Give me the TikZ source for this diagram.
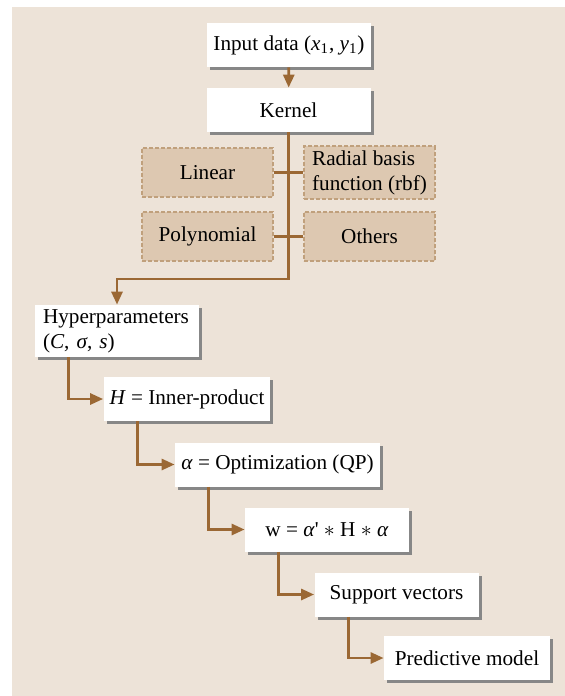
\documentclass[tikz,border=0pt]{standalone}
\usepackage{fontspec}
\setmainfont{Liberation Serif}
\usetikzlibrary{arrows.meta, shadows}

\definecolor{panel}{RGB}{237,227,216}
\definecolor{flowbrown}{RGB}{155,104,52}
\definecolor{optfill}{RGB}{221,200,177}
\definecolor{optdash}{RGB}{192,160,124}
\definecolor{boxshadow}{RGB}{135,135,135}

\begin{document}
\begin{tikzpicture}[
    x=0.5pt, y=-0.5pt,
    font=\fontsize{10.6}{12.6}\selectfont,
    stage/.style={
        rectangle, fill=white, draw=none,
        minimum width=82pt, minimum height=22pt, align=center,
        inner sep=3pt,
        general shadow={fill=boxshadow, shadow xshift=1.5pt, shadow yshift=-1.5pt}
    },
    kernelopt/.style={
        rectangle, fill=optfill, draw=optdash, line width=0.8pt,
        dash pattern=on 2pt off 1pt,
        minimum width=65.5pt, minimum height=24.5pt, align=left,
        inner sep=2pt
    },
    flow/.style={draw=flowbrown, line width=1.4pt, -{Triangle[length=6.5pt, width=5.5pt]}},
    link/.style={draw=flowbrown, line width=1.4pt}
]

\useasboundingbox (0,0) rectangle (565,696);
\fill[panel] (12,7) rectangle (565,696);

% ---------------------------------------------------------------------
% 1. TOP: INPUT AND KERNEL
% ---------------------------------------------------------------------
\node[stage] (input) at (289, 45) {Input data (\textit{x}\textsubscript{1}, \textit{y}\textsubscript{1})};
\node[stage] (kernel) at (288.5, 110) {Kernel};

\draw[flow] (input) -- (kernel);

% Kernel choices
\node[kernelopt] (linear) at (207.5, 172.5) {Linear};
\node[kernelopt] (rbf) at (369.5, 172.5) {Radial basis\\function (rbf)};
\node[kernelopt] (poly) at (207.5, 236.5) {Polynomial};
\node[kernelopt] (others) at (369.5, 236.5) {Others};

% ---------------------------------------------------------------------
% 2. TRAINING STEPS
% ---------------------------------------------------------------------
\node[stage, align=left, text width=74pt, minimum height=26pt, inner ysep=1pt] (hyper) at (117, 331)
    {Hyperparameters\\(\textit{C}, \textit{σ}, \textit{s})};
\node[stage] (inner) at (187, 399) {\textit{H} = Inner-product};
\node[stage, minimum width=102.5pt] (optim) at (277.5, 464.5) {\textit{α} = Optimization (QP)};
\node[stage] (weights) at (327, 529.5) {w = \textit{α}\textquotesingle{} $\ast$ H $\ast$ \textit{α}};
\node[stage] (support) at (396.5, 594.5) {Support vectors};
\node[stage, minimum width=83pt] (model) at (467, 658) {Predictive model};

% ---------------------------------------------------------------------
% CONNECTORS
% ---------------------------------------------------------------------

% Kernel trunk down to the hyperparameters
\coordinate (bend) at (288.5, 279);
\draw[flow] (kernel.south) -- (bend) -| (hyper.north);
\draw[link] (linear.east) -- (rbf.west);
\draw[link] (poly.east) -- (others.west);

% Staircase of steps
\foreach \a/\b in {hyper/inner, inner/optim, optim/weights, weights/support, support/model}
    \draw[flow] ([xshift=17pt]\a.south west) |- (\b.west);

\end{tikzpicture}
\end{document}
